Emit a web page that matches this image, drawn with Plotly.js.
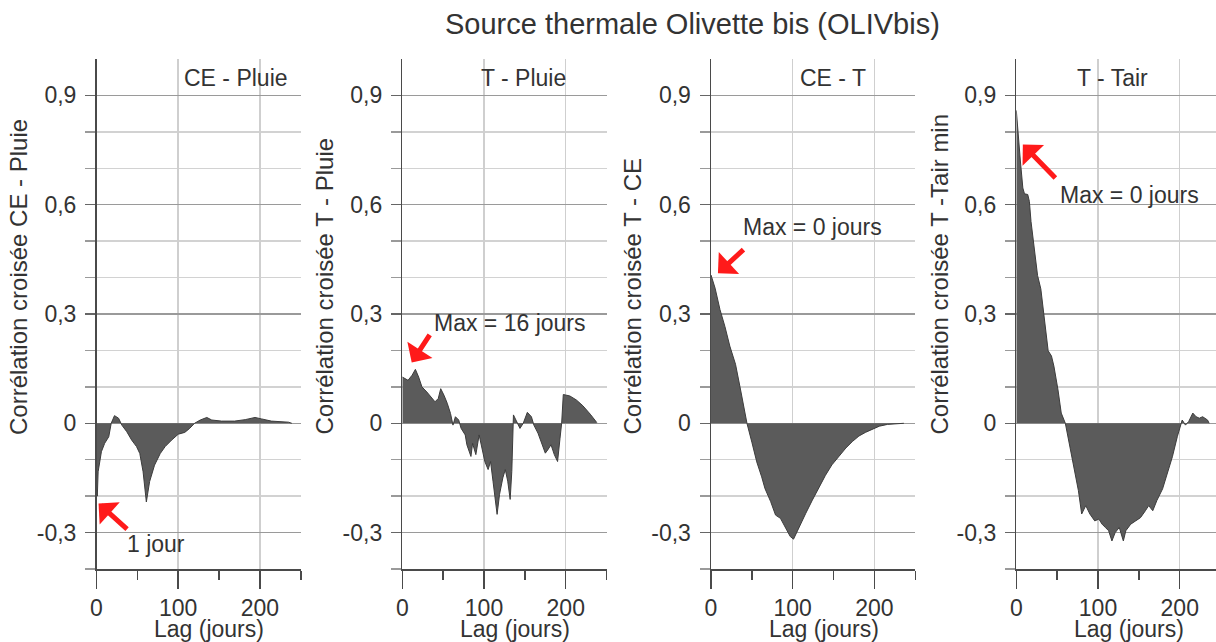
<!DOCTYPE html>
<html>
<head>
<meta charset="utf-8">
<script src="https://cdn.plot.ly/plotly-3.0.1.min.js"></script>
<style>html,body{margin:0;padding:0;background:#fff;}#chart{width:1216px;height:642px;}</style>
</head>
<body>
<div id="chart"></div>
<script>
// ---- Data ----
const chartTitle = "Source thermale Olivette bis (OLIVbis)";
const panelTitles = ["CE - Pluie", "T - Pluie", "CE - T", "T - Tair"];
const yTitles = ["Corrélation croisée CE - Pluie", "Corrélation croisée T - Pluie", "Corrélation croisée T - CE", "Corrélation croisée T -Tair min"];
const xTitle = "Lag (jours)";
const maxLabels = ["1 jour", "Max = 16 jours", "Max = 0 jours", "Max = 0 jours"];

const yTickVals = [-0.3, 0, 0.3, 0.6, 0.9];
const yTickText = ["-0,3", "0", "0,3", "0,6", "0,9"];
const yMinorVals = [-0.4, -0.2, -0.1, 0.1, 0.2, 0.4, 0.5, 0.7, 0.8];
const xTickVals = [0, 100, 200];
const xTickText = ["0", "100", "200"];
const xMinorVals = [50, 150, 250];

// Panel 1 : CE - Pluie
const lag1 = [0, 1, 2, 6, 10, 15, 18, 22, 27, 31, 37, 43, 49, 53, 57, 61, 65, 71, 78, 84, 92, 100, 108, 114, 120, 127, 135, 141, 153, 169, 182, 194, 202, 214, 235, 239];
const val1 = [-0.19, -0.2, -0.133, -0.078, -0.055, -0.037, 0, 0.021, 0.014, -0.005, -0.023, -0.046, -0.064, -0.083, -0.133, -0.216, -0.16, -0.115, -0.083, -0.064, -0.046, -0.03, -0.025, -0.014, 0, 0.009, 0.016, 0.009, 0.006, 0.006, 0.01, 0.016, 0.012, 0.006, 0.003, 0];

// Panel 2 : T - Pluie
const lag2 = [0, 3, 7, 12, 16, 20, 24, 30, 36, 40, 44, 47, 51, 55, 59, 62, 65, 69, 72, 77, 79, 84, 86, 90, 94, 97, 101, 105, 108, 111, 114, 116, 119, 123, 126, 129, 132, 134, 136, 139, 144, 148, 153, 158, 161, 166, 171, 175, 178, 182, 186, 190, 193, 195, 197, 205, 213, 221, 230, 238];
const val2 = [0.127, 0.123, 0.118, 0.132, 0.148, 0.127, 0.1, 0.086, 0.068, 0.059, 0.068, 0.095, 0.077, 0.055, 0.027, -0.005, 0.018, 0.009, -0.014, -0.032, -0.059, -0.091, -0.055, -0.086, -0.032, -0.068, -0.105, -0.127, -0.105, -0.159, -0.214, -0.25, -0.195, -0.15, -0.127, -0.159, -0.209, -0.132, 0.023, 0.009, -0.014, 0, 0.03, 0.018, -0.005, -0.027, -0.055, -0.082, -0.073, -0.059, -0.086, -0.105, -0.041, 0, 0.079, 0.075, 0.064, 0.048, 0.025, 0.002];

// Panel 3 : CE - T
const lag3 = [0, 5, 11, 17, 23, 30, 36, 43, 44, 50, 56, 62, 66, 73, 79, 85, 91, 97, 101, 107, 116, 124, 132, 140, 148, 157, 165, 173, 181, 189, 198, 206, 216, 226, 236];
const val3 = [0.407, 0.371, 0.312, 0.266, 0.212, 0.162, 0.094, 0.007, 0, -0.052, -0.106, -0.147, -0.179, -0.215, -0.252, -0.261, -0.288, -0.311, -0.318, -0.288, -0.247, -0.211, -0.175, -0.143, -0.114, -0.088, -0.068, -0.05, -0.035, -0.025, -0.015, -0.008, -0.003, -0.001, 0];

// Panel 4 : T - Tair
const lag4 = [0, 2, 5, 8, 10, 14, 16, 18, 22, 26, 30, 33, 36, 39, 43, 46, 51, 55, 60, 64, 68, 72, 76, 80, 85, 90, 96, 101, 105, 109, 113, 117, 121, 126, 131, 134, 140, 146, 152, 158, 162, 167, 172, 179, 185, 191, 197, 201, 203, 207, 211, 216, 220, 224, 228, 234, 236];
const val4 = [0.859, 0.794, 0.72, 0.646, 0.63, 0.628, 0.609, 0.554, 0.471, 0.406, 0.369, 0.314, 0.259, 0.199, 0.185, 0.157, 0.092, 0.028, 0, -0.046, -0.102, -0.139, -0.185, -0.249, -0.226, -0.249, -0.268, -0.263, -0.277, -0.286, -0.295, -0.323, -0.3, -0.286, -0.323, -0.295, -0.277, -0.268, -0.259, -0.24, -0.226, -0.24, -0.212, -0.18, -0.139, -0.092, -0.037, -0.005, 0.009, -0.005, 0.005, 0.028, 0.018, 0.014, 0.018, 0.009, 0];

const lags = [lag1, lag2, lag3, lag4];
const vals = [val1, val2, val3, val4];

// ---- Layout geometry (pixels in a 1216 x 642 page) ----
const W = 1216, H = 642;
const pxPerLag = 0.8172;
const axisLeft = [96.5, 402.3, 711, 1016.3];
const plotTop = 59, plotBottom = 569;
const yTitleX = [18, 324, 632, 939];
const fx = p => p / W;
const fy = p => 1 - p / H;

const FONT = '"Liberation Sans", Arial, sans-serif';
const TXT = '#333333';

const traces = [];
const layout = {
  width: W, height: H,
  margin: {l: 0, r: 0, t: 0, b: 0},
  paper_bgcolor: '#ffffff', plot_bgcolor: '#ffffff',
  showlegend: false,
  font: {family: FONT, size: 23, color: TXT},
  annotations: [],
  shapes: []
};

layout.annotations.push({
  xref: 'paper', yref: 'paper', x: fx(692), y: fy(24), xanchor: 'center', yanchor: 'middle',
  text: chartTitle, showarrow: false, font: {family: FONT, size: 29, color: TXT}
});

// arrow tips (data coords) and tail offsets (pixels)
const arrowTip = [[2.5, -0.22], [11.5, 0.167], [8.5, 0.412], [8, 0.765]];
const arrowOff = [[30, 27], [19, -29], [27, -25], [34, 35]];
const labelPos = [[35, -0.33], [36.5, 0.275], [36.5, 0.538], [51, 0.626]];
const panelTitleX = [171, 148, 149, 118];

for (let i = 0; i < 4; i++) {
  const n = i + 1;
  const xa = 'xaxis' + (n === 1 ? '' : n);
  const ya = 'yaxis' + (n === 1 ? '' : n);
  const xr = 'x' + (n === 1 ? '' : n);
  const yr = 'y' + (n === 1 ? '' : n);
  const left = axisLeft[i];
  const right = Math.min(W, left + 250 * pxPerLag);
  const xmax = (right - left) / pxPerLag;

  traces.push({
    type: 'scatter', mode: 'lines', x: lags[i], y: vals[i],
    xaxis: xr, yaxis: yr, fill: 'tozeroy',
    fillcolor: '#5b5b5b', line: {color: '#3c3c3c', width: 1},
    hoverinfo: 'skip'
  });

  layout[xa] = {
    domain: [fx(left), fx(right)], range: [0, xmax], anchor: yr,
    showline: true, linecolor: '#4a4a4a', linewidth: 1.5,
    tickmode: 'array', tickvals: xTickVals, ticktext: xTickText,
    ticks: 'outside', ticklen: 18, tickcolor: '#4a4a4a', tickwidth: 1.5,
    ticklabelstandoff: 0,
    showgrid: true, gridcolor: '#cfcfcf', gridwidth: 1.5, zeroline: false,
    minor: {tickmode: 'array', tickvals: xMinorVals, ticks: 'outside', ticklen: 9, tickcolor: '#4a4a4a', tickwidth: 1.5, showgrid: false},
    tickfont: {family: FONT, size: 23, color: TXT},
    fixedrange: true
  };
  layout[ya] = {
    domain: [fy(plotBottom), fy(plotTop)], range: [-0.4, 1.0], anchor: xr,
    showline: true, linecolor: '#4a4a4a', linewidth: 1.5,
    tickmode: 'array', tickvals: yTickVals, ticktext: yTickText,
    ticks: 'outside', ticklen: 10, tickcolor: '#666666', tickwidth: 1.5,
    ticklabelstandoff: 4,
    showgrid: true, gridcolor: '#9a9a9a', gridwidth: 1.5, zeroline: false,
    minor: {tickmode: 'array', tickvals: yMinorVals, ticks: 'outside', ticklen: 10, tickcolor: '#9a9a9a', tickwidth: 1.5, showgrid: true, gridcolor: '#d2d2d2', gridwidth: 1.5},
    tickfont: {family: FONT, size: 23, color: TXT},
    fixedrange: true
  };

  // panel title inside plot
  layout.annotations.push({
    xref: xr, yref: 'paper', x: panelTitleX[i], y: fy(78), xanchor: 'center', yanchor: 'middle',
    text: panelTitles[i], showarrow: false, font: {family: FONT, size: 23, color: TXT}
  });
  // y title
  layout.annotations.push({
    xref: 'paper', yref: 'paper', x: fx(yTitleX[i]), y: fy(437), xanchor: 'center', yanchor: 'bottom',
    textangle: -90, text: yTitles[i], showarrow: false, font: {family: FONT, size: 24, color: TXT}
  });
  // x title
  layout.annotations.push({
    xref: xr, yref: 'paper', x: 138, y: fy(629), xanchor: 'center', yanchor: 'middle',
    text: xTitle, showarrow: false, font: {family: FONT, size: 23, color: TXT}
  });
  // red arrow
  layout.annotations.push({
    xref: xr, yref: yr, x: arrowTip[i][0], y: arrowTip[i][1],
    ax: arrowOff[i][0], ay: arrowOff[i][1], axref: 'pixel', ayref: 'pixel',
    text: '', showarrow: true, arrowhead: 1, arrowsize: 1.0, arrowwidth: 5,
    arrowcolor: '#ff1a1a', standoff: 0
  });
  // max label
  layout.annotations.push({
    xref: xr, yref: yr, x: labelPos[i][0], y: labelPos[i][1], xanchor: 'left', yanchor: 'middle',
    text: maxLabels[i], showarrow: false, font: {family: FONT, size: 23, color: TXT}
  });
}

Plotly.newPlot('chart', traces, layout, {displayModeBar: false, staticPlot: true});
</script>
</body>
</html>
